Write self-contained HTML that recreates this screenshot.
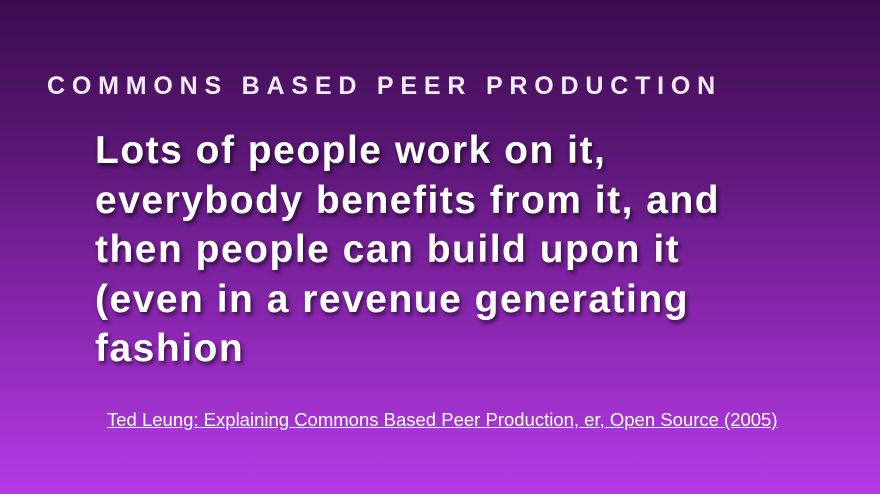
<!DOCTYPE html>
<html><head><meta charset="utf-8"><style>
html,body{margin:0;padding:0;}
body{width:880px;height:494px;overflow:hidden;position:relative;
background:linear-gradient(180deg,#3b0d4e 0%,#5a1775 30%,#8a27b0 65%,#b53be6 100%);
font-family:"Liberation Sans",sans-serif;}
#title{position:absolute;left:47px;top:72px;font-size:25px;font-weight:bold;letter-spacing:6.8px;color:#f4eaf6;white-space:nowrap;}
#body{position:absolute;left:95px;top:126px;font-size:39px;letter-spacing:1.5px;line-height:49.5px;font-weight:bold;color:#fff;
text-shadow:2px 3px 4px rgba(0,0,0,0.6);white-space:nowrap;}
#cite{position:absolute;left:107px;top:409px;font-size:18.5px;color:#fff;text-decoration:underline;white-space:nowrap;}
</style></head><body>
<div id="title">COMMONS BASED PEER PRODUCTION</div>
<div id="body">Lots of people work on it,<br>everybody benefits from it, and<br>then people can build upon it<br>(even in a revenue generating<br>fashion</div>
<a id="cite">Ted Leung: Explaining Commons Based Peer Production, er, Open Source (2005)</a>
</body></html>
